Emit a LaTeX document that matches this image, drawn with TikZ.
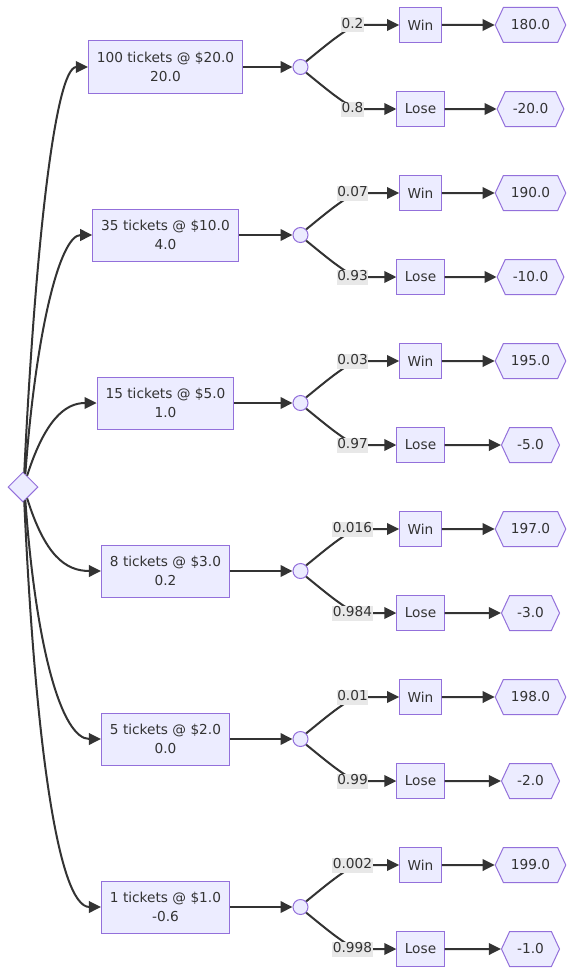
\documentclass[tikz,border=0pt]{standalone}
\usepackage{fontspec}
\setmainfont{DejaVu Sans}
\usetikzlibrary{shapes.geometric,shapes.symbols,arrows.meta}
\definecolor{nodefill}{HTML}{ECECFF}
\definecolor{nodedraw}{HTML}{9370DB}
\definecolor{edgecol}{HTML}{333333}
\definecolor{lblbg}{HTML}{E8E8E8}
\begin{document}
\begin{tikzpicture}[x=1pt,y=-1pt,
  every node/.style={font=\fontsize{13.7}{19.5}\selectfont, text=edgecol},
  nd/.style={draw=nodedraw, fill=nodefill, line width=1pt},
  optbox/.style={nd, rectangle, align=center, inner xsep=8.5pt, minimum height=52pt},
  outbox/.style={nd, rectangle, inner xsep=8pt, minimum height=35pt},
  hexnode/.style={nd, signal, signal to=east and west, signal pointer angle=130, inner xsep=7.5pt, minimum height=35pt},
  chance/.style={nd, circle, minimum size=15pt, inner sep=0pt},
  decision/.style={nd, diamond, minimum width=30pt, minimum height=30pt, inner sep=0pt, aspect=1},
  edge/.style={draw=edgecol, line width=2pt, -{Triangle[length=12pt,width=11.5pt]}},
  elabel/.style={fill=lblbg, inner xsep=0.5pt, inner ysep=1pt, text height=10pt, text depth=3pt}
]
\fill[white] (0,0) rectangle (574,974);
\useasboundingbox (0,0) rectangle (574,974);

\node[decision] (d) at (23,487) {};

\foreach \i/\t/\v/\pw/\pl/\wv/\lv in {
  1/{100 tickets @ \$20.0}/20.0/0.2/0.8/180.0/-20.0,
  2/{35 tickets @ \$10.0}/4.0/0.07/0.93/190.0/-10.0,
  3/{15 tickets @ \$5.0}/1.0/0.03/0.97/195.0/-5.0,
  4/{8 tickets @ \$3.0}/0.2/0.016/0.984/197.0/-3.0,
  5/{5 tickets @ \$2.0}/0.0/0.01/0.99/198.0/-2.0,
  6/{1 tickets @ \$1.0}/-0.6/0.002/0.998/199.0/-1.0}{
  \pgfmathsetmacro{\Y}{67+168*(\i-1)}
  \node[optbox] (b\i) at (165.5,\Y) {\t\\\v};
  \node[chance] (c\i) at (300.5,\Y) {};
  \node[outbox] (w\i) at (420.5,\Y-42) {Win};
  \node[outbox] (l\i) at (420.5,\Y+42) {Lose};
  \node[hexnode] (hw\i) at (530.5,\Y-42) {\wv};
  \node[hexnode] (hl\i) at (530.5,\Y+42) {\lv};
  \draw[edge] (b\i) -- (c\i);
  \draw[edge] (c\i.north east) .. controls (324,\Y-20) and (340,\Y-34) .. (356,\Y-42) -- (w\i.west);
  \draw[edge] (c\i.south east) .. controls (324,\Y+20) and (340,\Y+34) .. (356,\Y+42) -- (l\i.west);
  \node[elabel] (pw\i) at (352.5,\Y-42) {\pw};
  \node[elabel] (pl\i) at (352.5,\Y+42) {\pl};
  \draw[edge] (w\i) -- (hw\i);
  \draw[edge] (l\i) -- (hl\i);
}

\draw[edge] (d.85) .. controls (35,250) and (55,67) .. (b1.west);
\draw[edge] (d.80) .. controls (36,330) and (60,235) .. (b2.west);
\draw[edge] (d.70) .. controls (45,420) and (65,403) .. (b3.west);
\draw[edge] (d.-70) .. controls (45,555) and (65,571) .. (b4.west);
\draw[edge] (d.-80) .. controls (36,650) and (62,739) .. (b5.west);
\draw[edge] (d.-85) .. controls (35,740) and (58,907) .. (b6.west);
\end{tikzpicture}
\end{document}
